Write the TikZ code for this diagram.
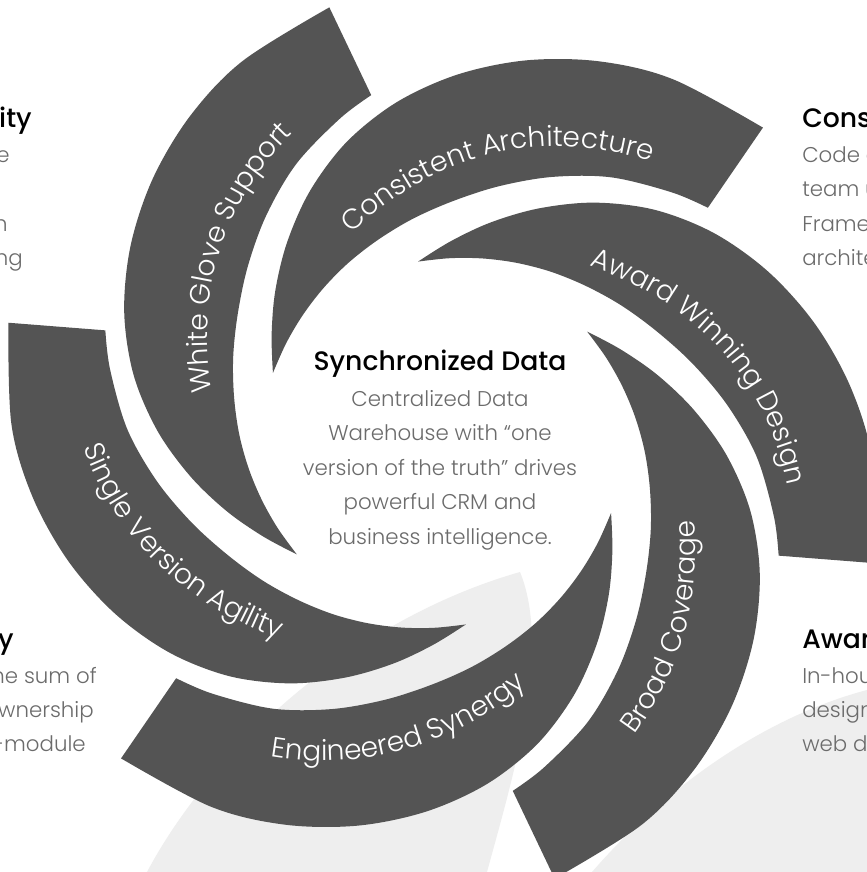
\documentclass[tikz,border=0pt]{standalone}
\usepackage{fontspec}
\IfFontExistsTF{Poppins Light}{\setmainfont{Poppins Light}}{\setmainfont{Poppins}}
\IfFontExistsTF{Poppins Medium}{\newfontfamily\headfont{Poppins Medium}}{\newfontfamily\headfont{Poppins}}
\usetikzlibrary{decorations.text}

\definecolor{bladegrey}{HTML}{545454}
\definecolor{swooshgrey}{HTML}{EEEEEE}
\definecolor{bodygrey}{HTML}{6B6B6B}

\newcommand\labelfont{\fontsize{21}{25}\selectfont}

\tikzset{
  blade/.style={fill=bladegrey},
  swoosh/.style={fill=swooshgrey},
  heading/.style={font=\headfont\fontsize{20}{24}\selectfont, text=black, inner sep=0pt},
  body/.style={font=\fontsize{16}{25.9}\selectfont, text=bodygrey, inner sep=0pt},
  bladelabel/.style={decorate, decoration={text along path, text align=center,
      text color=white, text={|\labelfont|#1}}},
}

\begin{document}
\begin{tikzpicture}[x=0.75pt, y=0.75pt]
		\def\bladepath{plot[smooth, tension=0.55] coordinates {(0:183) (-10:202) (-20:226) (-30:254) (-40:285) (-50:316) (-60:344) (-70:369) (-80:392) (-90:413) (-100:431) (-113:450)}
			-- plot[smooth, tension=0.55] coordinates {(-116:355) (-110:340) (-100:315) (-90:288) (-80:263) (-70:242) (-60:226) (-50:213) (-40:203) (-30:195) (-20:189) (-10:185) (0:183)} -- cycle}
		% text runs: clockwise for the upper blades, anticlockwise for the lower ones
		\def\cwpath{(176.2,-147.8) .. controls (138.8,-241.6) and (50.4,-356.5) .. (-128.6,-353.3)}
		\def\ccwpath{(-134.8,-370.2) .. controls (48.1,-375.7) and (149.5,-254.1) .. (190,-159.4)}
		
		% Fix the frame
		\useasboundingbox (-442,-422) rectangle (425,450);
		\clip (-442,-422) rectangle (425,450);
		\fill[white] (-442,-422) rectangle (425,450);
		
		% Light swooshes behind
		\fill[swoosh] (-295,-422) .. controls (-230,-300) and (-90,-170) .. (78,-122)
			.. controls (110,-200) and (70,-330) .. (45,-422) -- cycle;
		\fill[swoosh] (425,-240) .. controls (330,-265) and (230,-330) .. (150,-422) -- (425,-422) -- cycle;
		
		\begin{scope}[shift={(0,7)}]
			% Draw the blades
			\foreach \a in {157.5,97.5,37.5,-22.5,-82.5,-142.5}
				\fill[blade, rotate=\a] \bladepath;
			
			% Label the blades
			\path[rotate=159.5, scale=0.955, bladelabel={Consistent Architecture}] \cwpath;
			\path[rotate=98, scale=0.955, bladelabel={Award Winning Design}] \cwpath;
			\path[rotate=218.5, scale=0.955, bladelabel={White Glove Support}] \cwpath;
			\path[rotate=41, scale=0.955, bladelabel={Broad Coverage}] \ccwpath;
			\path[rotate=-17.5, scale=0.955, bladelabel={Engineered Synergy}] \ccwpath;
			\path[rotate=-77.5, scale=0.955, bladelabel={Single Version Agility}] \ccwpath;
		\end{scope}
		
		% Centre text
		\node[heading] (sync) at (-2,86) {Synchronized Data};
		\node[body, align=center] (syncbody) at (-2,-20) {Centralized Data\\ Warehouse with “one\\ version of the truth” drives\\ powerful CRM and\\ business intelligence.};
		
		% Side texts, cut by the frame
		\node[heading, anchor=base east] (agilhead) at (-410,322) {ity};
		\node[body, anchor=base east] (agil1) at (-432,287) {e};
		\node[body, anchor=base east] (agil3) at (-434,219) {n};
		\node[body, anchor=base east] (agil4) at (-419,185) {ng};
		
		\node[heading, anchor=base east] (synhead) at (-428,-198) {y};
		\node[body, anchor=base east] (syn1) at (-345,-233) {he sum of};
		\node[body, anchor=base east] (syn2) at (-348,-267) {wnership};
		\node[body, anchor=base east] (syn3) at (-356,-301) {-module};
		
		\node[heading, anchor=base west] (conshead) at (360,322) {Cons};
		\node[body, anchor=base west] (cons1) at (360,287) {Code c};
		\node[body, anchor=base west] (cons2) at (360,253) {team u};
		\node[body, anchor=base west] (cons3) at (360,219) {Frame};
		\node[body, anchor=base west] (cons4) at (360,185) {archite};
		
		\node[heading, anchor=base west] (awhead) at (360,-198) {Awar};
		\node[body, anchor=base west] (aw1) at (360,-233) {In-hou};
		\node[body, anchor=base west] (aw2) at (360,-267) {design};
		\node[body, anchor=base west] (aw3) at (360,-301) {web d};
\end{tikzpicture}
\end{document}
